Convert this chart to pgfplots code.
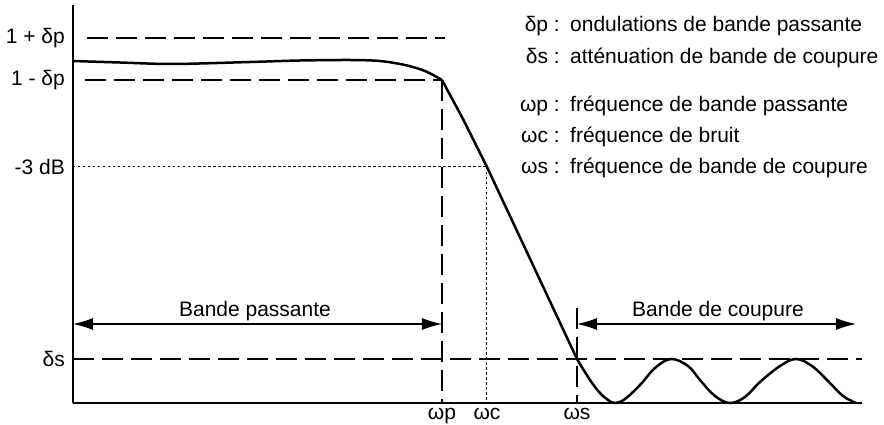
\documentclass[border=0pt]{standalone}
\usepackage{fontspec}
\setmainfont{Liberation Sans}
\usepackage{pgfplots}
\pgfplotsset{compat=1.18}
\usetikzlibrary{arrows.meta}
\newcommand\myfont{\fontsize{21bp}{24bp}\selectfont}
\begin{document}
\begin{tikzpicture}
\begin{axis}[
  name=ax, at={(0,0)}, anchor=south west,
  x=1bp, y=1bp,
  xmin=0, xmax=789, ymin=0, ymax=398,
  axis x line=bottom, axis y line=left,
  axis line style={-, line width=1.4bp},
  major tick length=0pt,
  xtick={369,414,504}, xticklabels={ωp,ωc,ωs},
  ytick={44,236,323,365}, yticklabels={δs,-3 dB,1 - δp,1 + δp},
  tick label style={font=\myfont},
  xticklabel style={anchor=north, inner sep=0pt, yshift=-5bp},
  yticklabel style={anchor=east, inner sep=0pt, xshift=-8bp},
  clip=false,
]
% reference lines
\addplot[line width=1.2bp, dash pattern=on 21bp off 8bp] coordinates {(14,365) (372,365)};
\addplot[line width=1.2bp, dash pattern=on 21bp off 8bp] coordinates {(12,323) (369,323)};
\addplot[line width=1.2bp, dash pattern=on 21bp off 8bp] coordinates {(0,44) (789,44)};
\addplot[line width=1.2bp, dash pattern=on 21bp off 8bp] coordinates {(369,323) (369,0)};
\addplot[line width=1.2bp, dash pattern=on 21bp off 8bp] coordinates {(504,95) (504,0)};
\addplot[line width=1bp, dash pattern=on 2.5bp off 2.5bp] coordinates {(0,236) (414,236)};
\addplot[line width=1bp, dash pattern=on 2.5bp off 2.5bp] coordinates {(414,236) (414,0)};
% response curve
\addplot[line width=2.5bp, smooth, tension=0.5] coordinates {
(0,342) (47,340.5) (100,339) (177,341) (227,342.5) (277,343) (307,342) (332,338) (352,332) (369,323)
};
\addplot[line width=2.5bp] coordinates {
(369,323) (390,284) (414,236) (459,140) (504,44)
};
\addplot[line width=2.5bp, smooth, tension=0.6] coordinates {
(504,44) (517,23) (527,10) (535,3) (542,0) (552,4) (567,18) (582,35) (598,44) (615,37) (627,23) (642,7) (657,0) (672,6) (687,21) (707,37) (723,44) (739,37) (755,22) (770,7) (783,0)
};
% band arrows
\addplot[line width=1.2bp, {Latex[length=20bp,width=12bp]}-{Latex[length=20bp,width=12bp]}] coordinates {(0,79) (369,79)};
\addplot[line width=1.2bp, {Latex[length=20bp,width=12bp]}-{Latex[length=20bp,width=12bp]}] coordinates {(504,79) (783,79)};
\node[font=\myfont, anchor=base, inner sep=0pt] at (182,87) {Bande passante};
\node[font=\myfont, anchor=base, inner sep=0pt] at (645,87) {Bande de coupure};
% legend text
\node[font=\myfont, anchor=base east, inner sep=0pt] at (487,372) {δp :};
\node[font=\myfont, anchor=base west, inner sep=0pt] at (497,372) {ondulations de bande passante};
\node[font=\myfont, anchor=base east, inner sep=0pt] at (487,340) {δs :};
\node[font=\myfont, anchor=base west, inner sep=0pt] at (497,340) {atténuation de bande de coupure};
\node[font=\myfont, anchor=base east, inner sep=0pt] at (487,292) {ωp :};
\node[font=\myfont, anchor=base west, inner sep=0pt] at (497,292) {fréquence de bande passante};
\node[font=\myfont, anchor=base east, inner sep=0pt] at (487,261) {ωc :};
\node[font=\myfont, anchor=base west, inner sep=0pt] at (497,261) {fréquence de bruit};
\node[font=\myfont, anchor=base east, inner sep=0pt] at (487,230) {ωs :};
\node[font=\myfont, anchor=base west, inner sep=0pt] at (497,230) {fréquence de bande de coupure};
\end{axis}
\pgfresetboundingbox
\path[use as bounding box] (ax.south west) ++(-73bp,-22bp) rectangle ++(884bp,425bp);
\end{tikzpicture}
\end{document}
